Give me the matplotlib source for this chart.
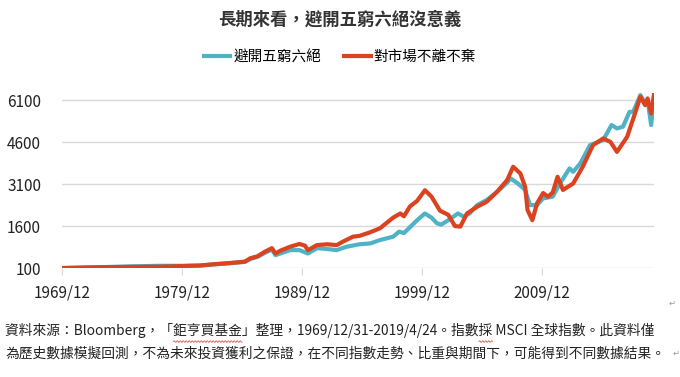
import matplotlib
matplotlib.use("Agg")
import numpy as np
import matplotlib.pyplot as plt
from matplotlib.lines import Line2D

plt.rcParams['font.family'] = ['Noto Sans CJK TC', 'DejaVu Sans']

# -----------------------------
# Data (decimal years)
# -----------------------------
avoid_x = [1970.0, 1973.2, 1975.7, 1978.2, 1980.0, 1981.5, 1982.75, 1984.0, 1985.25,
           1985.7, 1986.3, 1986.9, 1987.5, 1987.8, 1988.2, 1989.0, 1989.8, 1990.5,
           1991.25, 1992.1, 1992.9, 1993.7, 1994.8, 1995.7, 1996.5, 1997.6, 1998.1,
           1998.5, 1999.6, 2000.25, 2000.8, 2001.25, 2001.6, 2002.2, 2003.0, 2003.5,
           2004.0, 2004.6, 2005.4, 2006.25, 2007.1, 2007.4, 2008.0, 2008.6, 2009.0,
           2009.6, 2010.1, 2010.9, 2011.5, 2012.3, 2012.6, 2013.2, 2014.0, 2015.1,
           2015.8, 2016.25, 2016.75, 2017.3, 2017.6, 2018.2, 2018.6, 2018.8, 2019.1,
           2019.33]
avoid_y = [100, 130, 160, 180, 180, 190, 230, 270, 320,
           420, 500, 640, 760, 560, 620, 740, 740, 620,
           810, 780, 740, 860, 950, 980, 1100, 1220, 1400,
           1350, 1810, 2050, 1900, 1700, 1650, 1810, 2050, 1930,
           2060, 2350, 2530, 2820, 3150, 3300, 3120, 2890, 2350,
           2350, 2590, 2650, 3120, 3660, 3540, 3840, 4490, 4670,
           5210, 5090, 5150, 5680, 5680, 6280, 5990, 6100, 5210,
           6220]

stay_x = [1970.0, 1973.2, 1975.7, 1978.2, 1980.0, 1981.5, 1982.75, 1984.0, 1985.25,
          1985.7, 1986.3, 1986.9, 1987.5, 1987.8, 1988.2, 1989.0, 1989.8, 1990.25,
          1990.5, 1991.25, 1992.1, 1992.9, 1993.4, 1994.25, 1994.8, 1995.7, 1996.5,
          1997.6, 1998.2, 1998.5, 1999.0, 1999.6, 2000.25, 2000.8, 2001.5, 2002.2,
          2002.75, 2003.2, 2003.75, 2004.6, 2005.4, 2006.25, 2007.1, 2007.6, 2008.2,
          2008.6, 2008.8, 2009.2, 2009.6, 2010.1, 2010.5, 2010.9, 2011.3, 2011.75,
          2012.6, 2013.4, 2014.25, 2015.1, 2015.7, 2016.25, 2017.1, 2017.75, 2018.2,
          2018.6, 2018.8, 2019.1, 2019.33]
stay_y = [100, 130, 140, 150, 170, 190, 240, 280, 330,
          450, 520, 680, 810, 620, 720, 860, 960, 900,
          740, 920, 950, 920, 1040, 1220, 1250, 1380, 1520,
          1900, 2050, 1950, 2300, 2500, 2880, 2650, 2150, 2000,
          1600, 1580, 2050, 2290, 2470, 2820, 3240, 3720, 3480,
          3000, 2170, 1810, 2420, 2780, 2650, 2800, 3360, 2890,
          3120, 3720, 4490, 4730, 4610, 4250, 4790, 5620, 6220,
          5920, 6160, 5620, 6280]

yticks = [100, 1600, 3100, 4600, 6100]
xticks = [1970, 1980, 1990, 2000, 2010]
xlabels = ['1969/12', '1979/12', '1989/12', '1999/12', '2009/12']

title = '長期來看，避開五窮六絕沒意義'
note1 = '資料來源：Bloomberg，「鉅亨買基金」整理，1969/12/31-2019/4/24。指數採 MSCI 全球指數。此資料僅'
note2 = '為歷史數據模擬回測，不為未來投資獲利之保證，在不同指數走勢、比重與期間下，可能得到不同數據結果。'
# words flagged by the spell checker (red wavy underline)
flagged = ['鉅亨買基金', '採']

# -----------------------------
# Plot
# -----------------------------
fig = plt.figure(figsize=(6.8, 3.77), dpi=100)
ax = fig.add_axes([0.091, 0.289, 0.871, 0.464])

blue = '#4FB3C5'
red = '#DB4220'
ax.plot(avoid_x, avoid_y, color=blue, lw=3.0, label='避開五窮六絕', solid_joinstyle='round')
ax.plot(stay_x, stay_y, color=red, lw=3.0, label='對市場不離不棄', solid_joinstyle='round')

ax.set_ylim(100, 6350)
ax.set_xlim(1970, 2019.35)
ax.set_yticks(yticks)
ax.set_xticks(xticks)
ax.set_xticklabels(xlabels)
ax.grid(axis='y', color='#D9D9D9', lw=1)
ax.set_axisbelow(True)
for s in ax.spines.values():
    s.set_visible(False)
ax.tick_params(axis='y', length=0, pad=15, labelsize=11, labelcolor='#222222')
ax.tick_params(axis='x', length=5, color='#D9D9D9', pad=7, labelsize=11, labelcolor='#222222')

fig.text(0.5, 0.947, title, ha='center', va='center', fontsize=12.5, fontweight='bold',
         color='#333333')
ax.legend(loc='center', bbox_to_anchor=(0.5, 0.848), bbox_transform=fig.transFigure,
          ncol=2, frameon=False, handlelength=1.8, columnspacing=1.6,
          handletextpad=0.2, prop={'size': 10.5})

fs_note = 9.9
x0, y1, y2 = 0.008, 0.124, 0.062
fig.text(x0, y1, note1, ha='left', va='center', fontsize=fs_note, color='#222222')
fig.text(x0, y2, note2, ha='left', va='center', fontsize=fs_note, color='#222222')
fig.text(0.988, 0.195, '↵', ha='center', va='center', fontsize=6, color='#999999')
fig.text(0.994, 0.062, '↵', ha='center', va='center', fontsize=6, color='#999999')

# red wavy underline under flagged words, positioned from measured text widths
fig.canvas.draw()
renderer = fig.canvas.get_renderer()
W = fig.bbox.width


def text_width(s):
    t = fig.text(0, 0, s, fontsize=fs_note)
    w = t.get_window_extent(renderer).width
    t.remove()
    return w


for word in flagged:
    i = note1.index(word)
    xs = x0 * W + text_width(note1[:i])
    xe = xs + text_width(word)
    px = np.arange(xs, xe, 0.5)
    py = (y1 - 0.03) * fig.bbox.height + 0.8 * np.sin((px - xs) * np.pi / 1.5)
    fig.add_artist(Line2D(px / W, py / fig.bbox.height, color='#E05050', lw=0.6,
                          transform=fig.transFigure))

fig.savefig('out.png', dpi=100, facecolor='white')
